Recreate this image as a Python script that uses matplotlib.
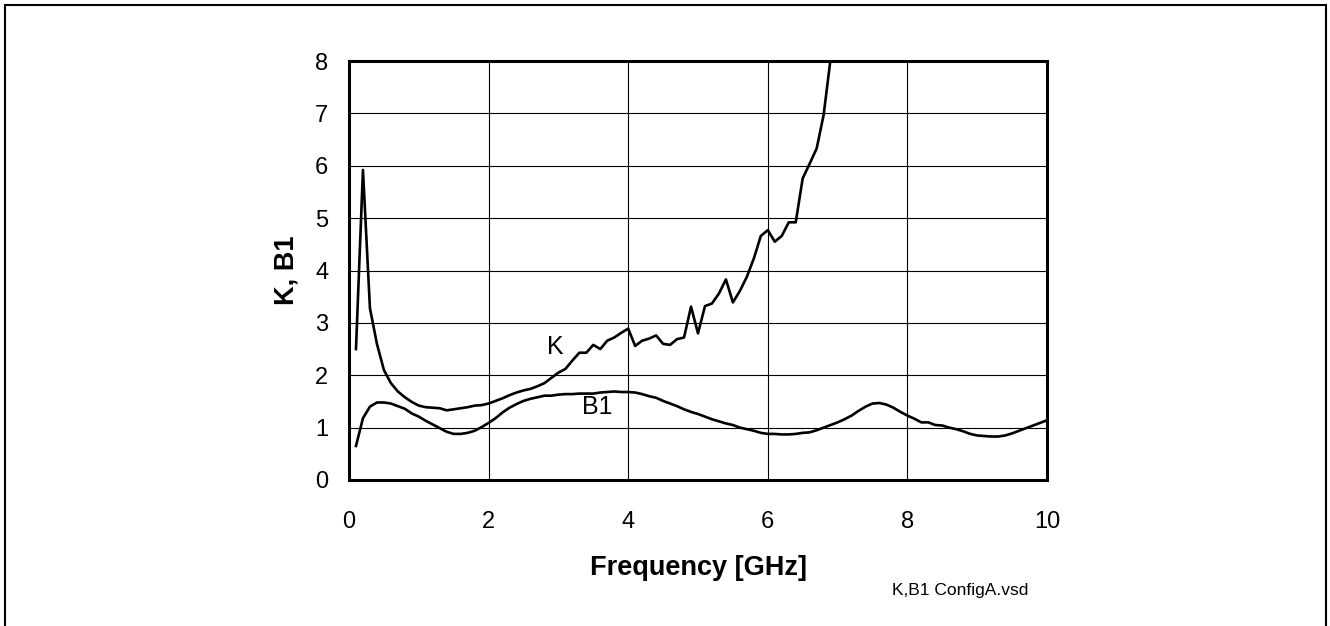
import numpy as np
import matplotlib
matplotlib.use('Agg')
import matplotlib.pyplot as plt
from matplotlib.patches import Rectangle

plt.rcParams['font.family'] = ['Liberation Sans', 'DejaVu Sans']

# -------------------------------
# Data (0.1 GHz steps)
# -------------------------------
freq_k = np.round(np.arange(1, 72) * 0.1, 1)
k_vals = [2.50, 5.92, 3.28, 2.60, 2.10, 1.85, 1.69, 1.58, 1.49, 1.42,
          1.39, 1.38, 1.37, 1.33, 1.35, 1.37, 1.39, 1.42, 1.43, 1.46,
          1.51, 1.56, 1.62, 1.67, 1.71, 1.74, 1.79, 1.85, 1.95, 2.05,
          2.12, 2.28, 2.43, 2.43, 2.58, 2.50, 2.66, 2.72, 2.81, 2.89,
          2.56, 2.66, 2.70, 2.76, 2.60, 2.58, 2.69, 2.72, 3.31, 2.80,
          3.32, 3.37, 3.56, 3.83, 3.39, 3.61, 3.88, 4.23, 4.66, 4.77,
          4.55, 4.66, 4.92, 4.92, 5.76, 6.04, 6.33, 6.97, 8.05, 9.40,
          11.0]

freq_b1 = np.round(np.arange(1, 101) * 0.1, 1)
b1_vals = [0.65, 1.18, 1.40, 1.48, 1.48, 1.46, 1.41, 1.36, 1.27, 1.21,
           1.13, 1.06, 0.99, 0.92, 0.88, 0.88, 0.90, 0.94, 1.01, 1.09,
           1.18, 1.29, 1.38, 1.45, 1.51, 1.55, 1.58, 1.61, 1.61, 1.63,
           1.64, 1.64, 1.65, 1.65, 1.65, 1.67, 1.68, 1.69, 1.68, 1.68,
           1.67, 1.64, 1.60, 1.57, 1.51, 1.46, 1.41, 1.35, 1.30, 1.26,
           1.21, 1.16, 1.12, 1.08, 1.05, 1.00, 0.97, 0.94, 0.90, 0.88,
           0.88, 0.87, 0.87, 0.88, 0.90, 0.91, 0.95, 1.00, 1.05, 1.10,
           1.16, 1.23, 1.32, 1.40, 1.46, 1.47, 1.44, 1.38, 1.30, 1.23,
           1.17, 1.10, 1.10, 1.05, 1.04, 1.00, 0.97, 0.93, 0.88, 0.85,
           0.84, 0.83, 0.83, 0.85, 0.89, 0.94, 0.99, 1.04, 1.09, 1.14]

x_ticks = [0, 2, 4, 6, 8, 10]
y_ticks = [0, 1, 2, 3, 4, 5, 6, 7, 8]

# -------------------------------
# Figure and axes
# -------------------------------
fig = plt.figure(figsize=(13.3, 6.26), dpi=100)
ax = fig.add_axes([349 / 1330, 1 - 480 / 626, 698 / 1330, 419 / 626])

# outer frame around the whole picture (bottom edge off-canvas)
fig.patches.append(Rectangle((5 / 1330, -0.05), 1321 / 1330, 1 - 5 / 626 + 0.05,
                             transform=fig.transFigure, fill=False,
                             edgecolor='black', linewidth=1.5))

ax.plot(freq_k, k_vals, color='black', linewidth=1.9)
ax.plot(freq_b1, b1_vals, color='black', linewidth=1.9)

ax.text(2.95, 2.54, 'K', fontsize=18, ha='center', va='center')
ax.text(3.56, 1.39, 'B1', fontsize=18, ha='center', va='center')

ax.set_xlim(0, 10)
ax.set_ylim(0, 8)
ax.set_xticks(x_ticks)
ax.set_yticks(y_ticks)
ax.tick_params(axis='both', length=0, labelsize=17)
ax.tick_params(axis='x', pad=22)
ax.tick_params(axis='y', pad=15)
ax.grid(True, color='black', linewidth=0.8)
ax.set_axisbelow(True)
for s in ax.spines.values():
    s.set_linewidth(2.2)

ax.set_xlabel('Frequency [GHz]', fontsize=19.5, fontweight='bold')
ax.xaxis.set_label_coords(0.5, -0.178)
ax.xaxis.label.set_va('top')
ax.set_ylabel('K, B1', fontsize=19.5, fontweight='bold')
ax.yaxis.set_label_coords(-0.089, 0.5)
ax.yaxis.label.set_va('center')

fig.text(892 / 1330, 1 - 590 / 626, 'K,B1 ConfigA.vsd', fontsize=12.5,
         ha='left', va='center')

fig.savefig('out.png', dpi=100)
